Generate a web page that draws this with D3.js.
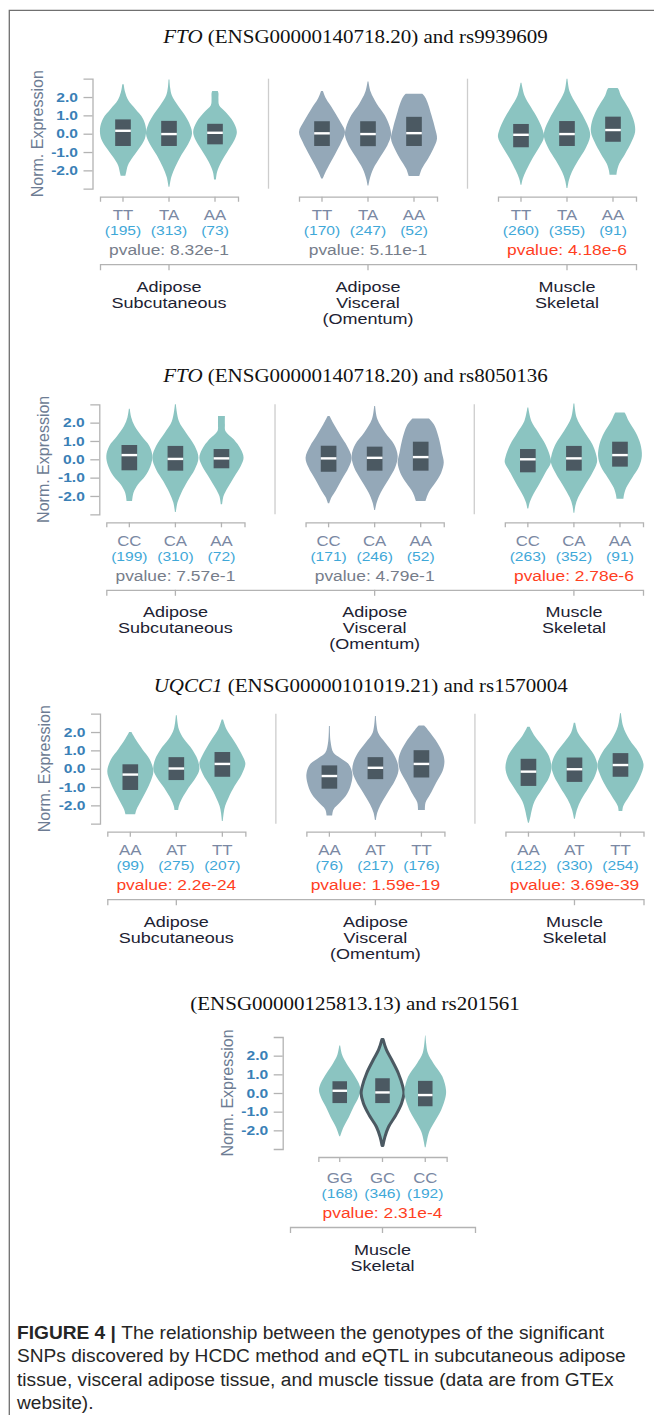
<!DOCTYPE html>
<html>
<head>
<meta charset="utf-8">
<script src="https://cdn.jsdelivr.net/npm/d3@7"></script>
<style>
  html, body { margin: 0; padding: 0; background: #ffffff; }
  svg { display: block; }
  text { white-space: pre; }
</style>
</head>
<body>
<svg id="fig" width="654" height="1415"></svg>
<script>
// ---------------- data ----------------
const geneSymbols = ["FTO", "FTO", "UQCC1", ""];
const geneIds = ["ENSG00000140718.20", "ENSG00000140718.20", "ENSG00000101019.21", "ENSG00000125813.13"];
const snpIds = ["rs9939609", "rs8050136", "rs1570004", "rs201561"];

const genotypeLabels = [
  ["TT", "TA", "AA"],
  ["CC", "CA", "AA"],
  ["AA", "AT", "TT"],
  ["GG", "GC", "CC"]
];

const tissueNames = [
  ["Adipose", "Subcutaneous"],
  ["Adipose", "Visceral", "(Omentum)"],
  ["Muscle", "Skeletal"]
];
// tissues shown in each panel (index into tissueNames)
const panelTissues = [[0, 1, 2], [0, 1, 2], [0, 1, 2], [2]];

const sampleCounts = [
  [[195, 313, 73], [170, 247, 52], [260, 355, 91]],
  [[199, 310, 72], [171, 246, 52], [263, 352, 91]],
  [[99, 275, 207], [76, 217, 176], [122, 330, 254]],
  [[168, 346, 192]]
];

const pValues = [
  [8.32e-1, 5.11e-1, 4.18e-6],
  [7.57e-1, 4.79e-1, 2.78e-6],
  [2.2e-24, 1.59e-19, 3.69e-39],
  [2.31e-4]
];

const expressionTicks = [-2, -1, 0, 1, 2];

// box plot: upper quartile, median, lower quartile (normalized expression)
const boxQ3 = [
  [[0.78, 0.70, 0.54], [0.68, 0.68, 0.92], [0.53, 0.69, 0.93]],
  [[0.78, 0.73, 0.56], [0.74, 0.69, 0.96], [0.56, 0.73, 0.96]],
  [[0.24, 0.63, 0.91], [0.18, 0.63, 1.01], [0.54, 0.61, 0.85]],
  [[0.63, 0.79, 0.65]]
];
const boxMedian = [
  [[0.16, -0.02, 0.05], [0.02, -0.02, 0.03], [-0.06, -0.02, 0.20]],
  [[0.23, 0.02, 0.05], [0.05, 0.08, 0.12], [0.0, 0.05, 0.23]],
  [[-0.32, 0.01, 0.26], [-0.40, 0.05, 0.26], [-0.16, -0.03, 0.20]],
  [[0.12, 0.03, -0.11]]
];
const boxQ1 = [
  [[-0.67, -0.67, -0.58], [-0.67, -0.68, -0.67], [-0.74, -0.67, -0.44]],
  [[-0.60, -0.62, -0.49], [-0.68, -0.62, -0.62], [-0.71, -0.62, -0.40]],
  [[-1.16, -0.62, -0.44], [-1.09, -0.57, -0.48], [-0.94, -0.72, -0.44]],
  [[-0.54, -0.54, -0.71]]
];

// violin outlines: [expression, relative density width] from lowest to highest sample
const densityProfiles = [
  [
    [
      [[-2.3,0.10],[-2.09,0.14],[-1.73,0.21],[-1.27,0.43],[-0.82,0.69],[-0.27,0.95],[0.27,1.0],[0.82,0.87],[1.36,0.53],[1.82,0.23],[2.27,0.09],[2.7,0.03]],
      [[-2.9,0.02],[-2.36,0.10],[-1.82,0.27],[-1.18,0.53],[-0.55,0.84],[0.0,1.0],[0.45,0.92],[1.0,0.69],[1.55,0.38],[2.1,0.12],[2.5,0.05],[2.96,0.02]],
      [[-2.5,0.04],[-2.09,0.09],[-1.55,0.27],[-1.0,0.53],[-0.36,0.84],[0.09,0.95],[0.64,0.80],[1.18,0.46],[1.55,0.18],[1.9,0.15],[2.2,0.15],[2.33,0.12]]
    ],
    [
      [[-2.45,0.03],[-2.18,0.12],[-1.73,0.30],[-1.09,0.58],[-0.45,0.84],[0.09,1.0],[0.73,0.76],[1.36,0.46],[1.9,0.18],[2.33,0.04]],
      [[-2.82,0.02],[-2.45,0.08],[-1.91,0.23],[-1.27,0.53],[-0.64,0.84],[-0.09,1.0],[0.36,0.95],[1.0,0.73],[1.64,0.38],[2.27,0.12],[2.85,0.02]],
      [[-2.31,0.23],[-1.91,0.34],[-1.36,0.61],[-0.82,0.84],[-0.27,1.0],[0.27,0.92],[1.0,0.76],[1.73,0.58],[2.05,0.45],[2.18,0.36]]
    ],
    [
      [[-2.78,0.02],[-2.45,0.08],[-2.0,0.23],[-1.36,0.49],[-0.73,0.80],[-0.18,1.0],[0.18,0.95],[0.82,0.73],[1.45,0.43],[2.09,0.15],[2.78,0.02]],
      [[-2.96,0.02],[-2.55,0.08],[-2.09,0.21],[-1.45,0.49],[-0.82,0.80],[-0.18,1.0],[0.18,0.98],[0.82,0.76],[1.55,0.43],[2.27,0.12],[3.0,0.02]],
      [[-2.24,0.15],[-2.0,0.18],[-1.64,0.27],[-1.09,0.53],[-0.45,0.80],[0.09,0.96],[0.64,0.92],[1.36,0.69],[2.09,0.34],[2.4,0.25],[2.49,0.20]]
    ]
  ],
  [
    [
      [[-2.27,0.12],[-1.82,0.18],[-1.36,0.38],[-0.91,0.69],[-0.36,0.92],[0.18,1.0],[0.73,0.87],[1.27,0.53],[1.82,0.23],[2.3,0.08],[2.76,0.02]],
      [[-2.87,0.02],[-2.36,0.09],[-1.82,0.26],[-1.18,0.53],[-0.55,0.84],[0.09,1.0],[0.73,0.84],[1.45,0.46],[2.09,0.15],[3.0,0.02]],
      [[-2.45,0.03],[-2.0,0.09],[-1.55,0.27],[-1.0,0.53],[-0.36,0.84],[0.09,0.96],[0.55,0.84],[1.09,0.53],[1.55,0.17],[1.9,0.15],[2.36,0.15]]
    ],
    [
      [[-2.4,0.03],[-2.09,0.12],[-1.73,0.30],[-1.09,0.58],[-0.45,0.87],[0.09,1.0],[0.73,0.80],[1.27,0.53],[1.91,0.23],[2.36,0.04]],
      [[-2.76,0.02],[-2.36,0.09],[-1.82,0.26],[-1.09,0.61],[-0.45,0.89],[0.18,1.0],[0.82,0.84],[1.45,0.46],[2.18,0.12],[2.91,0.02]],
      [[-2.27,0.21],[-1.82,0.34],[-1.27,0.64],[-0.73,0.89],[-0.18,1.0],[0.36,0.92],[1.09,0.80],[1.82,0.61],[2.1,0.45],[2.22,0.36]]
    ],
    [
      [[-2.69,0.02],[-2.36,0.08],[-2.0,0.20],[-1.36,0.49],[-0.73,0.76],[-0.18,1.0],[0.18,0.96],[0.82,0.76],[1.45,0.46],[2.09,0.15],[2.82,0.02]],
      [[-2.91,0.02],[-2.55,0.06],[-2.09,0.18],[-1.45,0.46],[-0.82,0.77],[-0.18,1.0],[0.18,0.98],[0.82,0.80],[1.55,0.43],[2.27,0.12],[3.05,0.02]],
      [[-2.15,0.15],[-1.91,0.18],[-1.55,0.27],[-1.0,0.53],[-0.36,0.84],[0.18,0.95],[0.82,0.89],[1.45,0.69],[2.09,0.38],[2.45,0.25],[2.55,0.20]]
    ]
  ],
  [
    [
      [[-2.49,0.21],[-2.22,0.27],[-1.76,0.46],[-1.22,0.69],[-0.67,0.89],[-0.13,1.0],[0.51,0.84],[1.05,0.53],[1.6,0.23],[2.0,0.05]],
      [[-2.25,0.08],[-2.04,0.11],[-1.67,0.23],[-1.04,0.53],[-0.49,0.84],[-0.04,1.0],[0.51,0.92],[1.05,0.69],[1.6,0.34],[2.15,0.11],[2.91,0.02]],
      [[-2.85,0.02],[-2.4,0.06],[-2.04,0.12],[-1.58,0.27],[-0.95,0.53],[-0.31,0.84],[0.24,1.0],[0.51,0.95],[1.05,0.73],[1.6,0.46],[2.15,0.18],[2.69,0.03]]
    ],
    [
      [[-2.55,0.12],[-2.22,0.18],[-1.85,0.46],[-1.4,0.76],[-0.95,0.92],[-0.31,1.0],[0.24,0.84],[0.6,0.46],[0.87,0.18],[1.5,0.05],[2.33,0.02]],
      [[-2.8,0.02],[-2.4,0.08],[-1.95,0.23],[-1.31,0.53],[-0.67,0.84],[-0.13,1.0],[0.33,0.96],[0.87,0.76],[1.42,0.43],[1.96,0.12],[2.87,0.02]],
      [[-2.25,0.15],[-1.85,0.18],[-1.4,0.38],[-0.76,0.64],[-0.13,0.92],[0.42,1.0],[0.87,0.92],[1.42,0.69],[1.96,0.38],[2.25,0.20],[2.36,0.12]]
    ],
    [
      [[-2.95,0.02],[-2.58,0.09],[-2.22,0.15],[-1.76,0.27],[-1.13,0.58],[-0.49,0.89],[0.05,1.0],[0.69,0.89],[1.24,0.61],[1.78,0.27],[2.29,0.05]],
      [[-2.73,0.02],[-2.22,0.11],[-1.67,0.30],[-1.04,0.61],[-0.4,0.89],[0.15,1.0],[0.78,0.84],[1.42,0.46],[1.96,0.15],[2.51,0.03]],
      [[-2.31,0.08],[-2.04,0.12],[-1.49,0.38],[-0.85,0.69],[-0.22,0.92],[0.24,1.0],[0.87,0.80],[1.6,0.38],[2.33,0.11],[3.02,0.02]]
    ]
  ],
  [
    [
      [[-2.32,0.02],[-1.82,0.18],[-1.28,0.43],[-0.74,0.65],[-0.2,0.89],[0.16,0.97],[0.52,0.89],[1.06,0.62],[1.6,0.31],[2.05,0.11],[2.54,0.02]],
      [[-2.81,0.02],[-2.36,0.11],[-1.82,0.28],[-1.19,0.62],[-0.56,0.89],[-0.02,1.0],[0.34,0.95],[1.06,0.74],[1.78,0.43],[2.32,0.18],[2.86,0.03]],
      [[-2.9,0.02],[-2.54,0.08],[-2.09,0.18],[-1.55,0.43],[-0.92,0.74],[-0.2,0.95],[0.16,0.97],[0.88,0.80],[1.6,0.38],[2.14,0.12],[3.08,0.01]]
    ]
  ]
];

// the violin drawn with an outline (selected genotype)
const selectedViolin = { panel: 3, tissue: 0, genotype: "GC" };

// ---------------- layout & style ----------------
const panelLayout = [
  { titleX: 355.5, titleY: 42.5, axisX: 92.5, x0: 100,   x1: 636,   yTop: 78.7,  yBottom: 188.7, padOuter: 0,     shift: 0 },
  { titleX: 355.5, titleY: 382,  axisX: 99.3, x0: 106.3, x1: 643,   yTop: 404.3, yBottom: 514.3, padOuter: 0,     shift: 0 },
  { titleX: 360.7, titleY: 692,  axisX: 100,  x0: 107.3, x1: 643.5, yTop: 713.7, yBottom: 823.7, padOuter: 0,     shift: 0 },
  { titleX: 355,   titleY: 1010, axisX: 282.7, x0: 290,  x1: 475,   yTop: 1037,  yBottom: 1149,  padOuter: 0.147, shift: 2.5 }
];

const SANS = "'Liberation Sans', Arial, Helvetica, sans-serif";
const SERIF = "'Liberation Serif', 'Times New Roman', Times, serif";
const SX = 1.2;           // horizontal stretch of chart lettering
const TITLE_SX = 1.167;
const tissueFill = ["#8bc4c1", "#94a8b8", "#8bc4c1"];
const BOX_FILL = "#4b5962";
const AXIS_GREY = "#b3b3b3";
const TICK_BLUE = "#3a80b6";
const GENO_GREY = "#7a88a3";
const COUNT_BLUE = "#3fa8d8";
const P_GREY = "#767d8a";
const P_RED = "#ff3f1f";
const TISSUE_INK = "#1d2232";

const svg = d3.select("#fig");

// figure frame
svg.append("path")
  .attr("d", "M9.3,1415V10.3H654")
  .attr("fill", "none")
  .attr("stroke", "#707070")
  .attr("stroke-width", 1.3);

function stretchedText(parent, x, y, sx) {
  return parent.append("text").attr("transform", `translate(${x},${y}) scale(${sx},1)`);
}

function styleAxis(sel) {
  sel.attr("font-size", null).attr("font-family", null);
  sel.select(".domain").attr("stroke", AXIS_GREY).attr("stroke-width", 1.3);
  sel.selectAll(".tick line").attr("stroke", AXIS_GREY).attr("stroke-width", 1.3);
}

panelLayout.forEach((lay, p) => {
  const g = svg.append("g").attr("class", "panel");
  const tissues = panelTissues[p];
  const genos = genotypeLabels[p];

  const tissueScale = d3.scaleBand()
    .domain(tissues)
    .range([lay.x0, lay.x1])
    .paddingInner(0.3065)
    .paddingOuter(lay.padOuter);

  const y = d3.scaleLinear().domain([-3, 3]).range([lay.yBottom, lay.yTop]);

  // title
  const title = stretchedText(g, lay.titleX, lay.titleY, TITLE_SX)
    .attr("text-anchor", "middle")
    .attr("font-family", SERIF)
    .attr("font-size", 18)
    .attr("fill", "#111");
  if (geneSymbols[p]) {
    title.append("tspan").attr("font-style", "italic").text(geneSymbols[p]);
    title.append("tspan").text(` (${geneIds[p]}) and ${snpIds[p]}`);
  } else {
    title.append("tspan").text(`(${geneIds[p]}) and ${snpIds[p]}`);
  }

  // y axis
  const yAxis = g.append("g")
    .attr("transform", `translate(${lay.axisX},0)`)
    .call(d3.axisLeft(y)
      .tickValues(expressionTicks)
      .tickFormat(d => d.toFixed(1))
      .tickSize(9)
      .tickSizeOuter(9));
  styleAxis(yAxis);
  yAxis.selectAll(".tick text")
    .attr("x", 0)
    .attr("transform", `translate(-14.5,0) scale(${SX},1)`)
    .attr("font-family", SANS)
    .attr("font-size", 13)
    .attr("font-weight", "bold")
    .attr("fill", TICK_BLUE);

  g.append("text")
    .attr("transform", `translate(${lay.axisX - 50},${(lay.yTop + lay.yBottom) / 2}) rotate(-90)`)
    .attr("text-anchor", "middle")
    .attr("font-family", SANS)
    .attr("font-size", 16)
    .attr("fill", "#6d7c93")
    .text("Norm. Expression");

  // separators between tissues
  tissues.forEach((t, ti) => {
    if (ti === 0) return;
    const prevEnd = tissueScale(tissues[ti - 1]) + tissueScale.bandwidth();
    const sx = (prevEnd + tissueScale(t)) / 2;
    g.append("line")
      .attr("x1", sx).attr("x2", sx)
      .attr("y1", lay.yTop).attr("y2", lay.yBottom)
      .attr("stroke", "#cdcdcd").attr("stroke-width", 1.3);
  });

  tissues.forEach((t, ti) => {
    const start = tissueScale(t);
    const gx = d3.scaleBand().domain(genos).range([start, start + tissueScale.bandwidth()]);
    const hw = gx.bandwidth() / 2;
    const bw = gx.bandwidth() * 0.34;

    genos.forEach((gt, k) => {
      const cx = gx(gt) + hw;
      const area = d3.area()
        .curve(d3.curveCatmullRom.alpha(0.5))
        .y(d => y(d[0]))
        .x0(d => cx - d[1] * hw)
        .x1(d => cx + d[1] * hw);
      const isSel = selectedViolin.panel === p && selectedViolin.tissue === ti && selectedViolin.genotype === gt;
      g.append("path")
        .attr("d", area(densityProfiles[p][ti][k]))
        .attr("fill", tissueFill[t])
        .attr("stroke", isSel ? BOX_FILL : "none")
        .attr("stroke-width", isSel ? 3 : 0)
        .attr("stroke-linejoin", "round");

      const q3 = boxQ3[p][ti][k], q1 = boxQ1[p][ti][k], med = boxMedian[p][ti][k];
      g.append("rect")
        .attr("x", cx - bw / 2)
        .attr("y", y(q3))
        .attr("width", bw)
        .attr("height", y(q1) - y(q3))
        .attr("fill", BOX_FILL);
      g.append("line")
        .attr("x1", cx - bw / 2).attr("x2", cx + bw / 2)
        .attr("y1", y(med)).attr("y2", y(med))
        .attr("stroke", "#ffffff").attr("stroke-width", 2.4);

      // genotype and sample size labels
      stretchedText(g, cx, lay.yBottom + 31.5 + lay.shift, SX)
        .attr("text-anchor", "middle")
        .attr("font-family", SANS).attr("font-size", 14)
        .attr("fill", GENO_GREY)
        .text(gt);
      stretchedText(g, cx, lay.yBottom + 46.5 + lay.shift, SX)
        .attr("text-anchor", "middle")
        .attr("font-family", SANS).attr("font-size", 13)
        .attr("fill", COUNT_BLUE)
        .text(`(${sampleCounts[p][ti][k]})`);
    });

    // genotype axis
    const gAxis = g.append("g")
      .attr("transform", `translate(0,${lay.yBottom + 8})`)
      .call(d3.axisBottom(gx).tickSize(5).tickSizeOuter(5).tickFormat(""));
    styleAxis(gAxis);

    // p-value
    const pv = pValues[p][ti];
    stretchedText(g, start + tissueScale.bandwidth() / 2, lay.yBottom + 66.5 + lay.shift, SX)
      .attr("text-anchor", "middle")
      .attr("font-family", SANS).attr("font-size", 14.5)
      .attr("fill", pv < 0.05 ? P_RED : P_GREY)
      .text(`pvalue: ${pv.toExponential()}`);

    // tissue name
    tissueNames[t].forEach((line, li) => {
      stretchedText(g, start + tissueScale.bandwidth() / 2, lay.yBottom + 103 + lay.shift + li * 16, SX)
        .attr("text-anchor", "middle")
        .attr("font-family", SANS).attr("font-size", 15)
        .attr("fill", TISSUE_INK)
        .text(line);
    });
  });

  // tissue axis
  const tAxis = g.append("g")
    .attr("transform", `translate(0,${lay.yBottom + 75.5 + lay.shift})`)
    .call(d3.axisBottom(tissueScale).tickSize(6).tickSizeOuter(6).tickFormat(""));
  styleAxis(tAxis);
});

// caption
const captionLines = [
  [["FIGURE 4 | ", true], ["The relationship between the genotypes of the significant", false]],
  [["SNPs discovered by HCDC method and eQTL in subcutaneous adipose", false]],
  [["tissue, visceral adipose tissue, and muscle tissue (data are from GTEx", false]],
  [["website).", false]]
];
const captionBase = [1339, 1362, 1385.5, 1409];
const capTexts = captionLines.map((parts) => {
  const t = svg.append("text")
    .attr("font-family", SANS)
    .attr("font-size", 19)
    .attr("fill", "#262626");
  parts.forEach(([s, bold]) => {
    t.append("tspan").attr("font-weight", bold ? "bold" : "normal").text(s);
  });
  return t;
});
// condensed caption lettering: the second line spans 609 px
const natural = capTexts[1].node().getComputedTextLength();
const capSX = 609 / natural;
capTexts.forEach((t, i) => t.attr("transform", `translate(17,${captionBase[i]}) scale(${capSX},1)`));
</script>
</body>
</html>
